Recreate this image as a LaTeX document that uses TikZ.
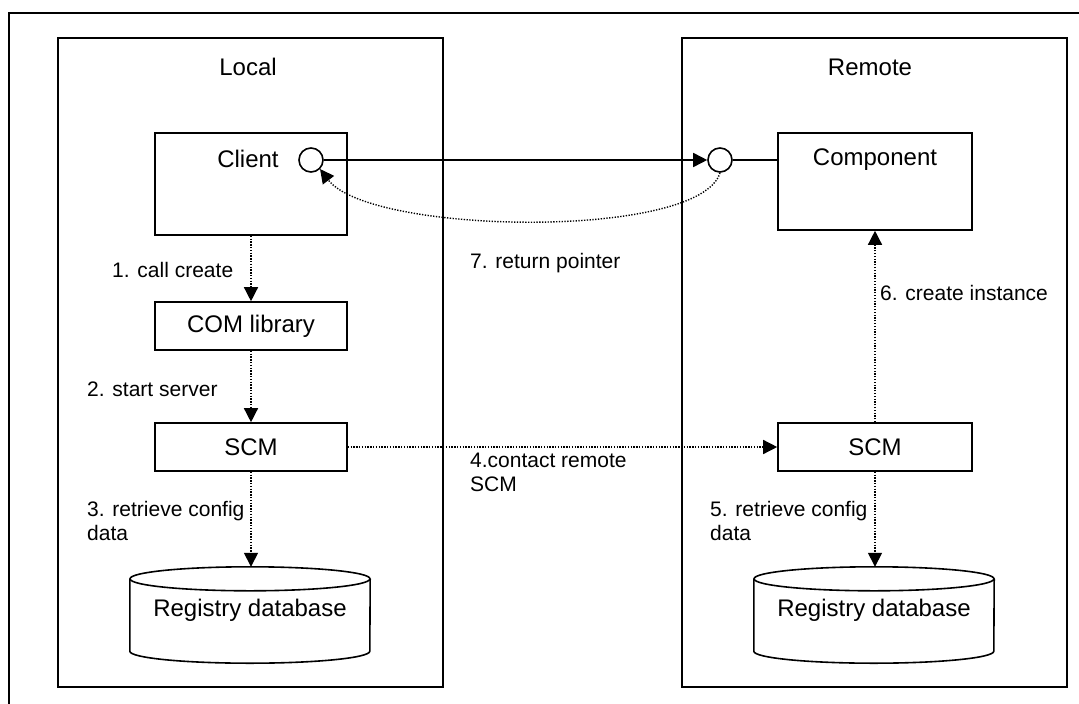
\documentclass[tikz,border=0pt]{standalone}
\usepackage{fontspec}
\setmainfont{Liberation Sans}
\usetikzlibrary{arrows.meta}
\begin{document}
\begin{tikzpicture}[x=1pt,y=-1pt,
  container/.style={draw, line width=1.6pt, inner sep=0pt, minimum width=385pt, minimum height=649pt},
  box/.style={draw, line width=1.6pt, fill=white, inner sep=0pt, font=\fontsize{24}{28}\selectfont},
  inlabel/.style={font=\fontsize{24}{28}\selectfont, inner sep=0pt, anchor=center},
  lbl/.style={font=\fontsize{21}{24}\selectfont, inner sep=0pt, align=left, anchor=west},
  ttl/.style={font=\fontsize{24}{28}\selectfont, inner sep=0pt},
  dotarrow/.style={line width=1.4pt, dash pattern=on 1.3pt off 1.5pt, -{Triangle[length=14pt,width=14pt]}},
  solidarrow/.style={line width=1.6pt, -{Triangle[length=14pt,width=14pt]}},
  port/.style={circle, draw, line width=1.6pt, fill=white, minimum size=24pt, inner sep=0pt},
  db/.style={inner sep=0pt, minimum width=240pt, minimum height=96pt, font=\fontsize{24}{28}\selectfont},
  dbline/.style={line width=1.6pt}
]
\clip (0,0) rectangle (1079,704);
\fill[white] (0,0) rectangle (1079,704);
% outer frame (extends beyond the picture)
\draw[line width=1.8pt] (9,13) rectangle (1120,740);

% containers
\node[container] (local) at (250.5,362.5) {};
\node[container] (remote) at (874.5,362.5) {};
\node[ttl] (tlocal) at (248,67) {Local};
\node[ttl] (tremote) at (870,67) {Remote};

% local side
\node[box, minimum width=192pt, minimum height=102pt,
      label={[inlabel, xshift=-3pt, yshift=-27pt]north:Client}] (client) at (251,184) {};
\node[port] (cL) at (311,160) {};
\node[box, minimum width=192pt, minimum height=48pt] (com) at (251,326) {COM library};
\node[box, minimum width=192pt, minimum height=48pt] (scmL) at (251,447) {SCM};
\node[db] (dbL) at (250,610) {Registry database};

% remote side
\node[box, minimum width=194pt, minimum height=97pt,
      label={[inlabel, yshift=-27pt]north:Component}] (comp) at (875,181.5) {};
\node[port] (cR) at (720,160) {};
\node[box, minimum width=194pt, minimum height=48pt] (scmR) at (875,447) {SCM};
\node[db] (dbR) at (874,610) {Registry database};

% cylinders
\foreach \n in {dbL,dbR} {
  \draw[dbline] ([yshift=-17pt]\n.north) ellipse [x radius=120pt, y radius=12pt];
  \draw[dbline] ([yshift=-17pt]\n.north west) -- ([yshift=7pt]\n.south west)
     arc [start angle=180, end angle=360, x radius=120pt, y radius=12pt]
     -- ([yshift=-17pt]\n.north east);
}
\coordinate (dbLtop) at ([yshift=-5pt]dbL.north);
\coordinate (dbRtop) at ([yshift=-5pt]dbR.north);

% connectors
\draw[solidarrow] (cL.east) -- (cR.west);
\draw[line width=1.6pt] (cR.east) -- (cR.east -| comp.west);
\draw[dotarrow] (cR.south) .. controls (700,240) and (370,235) .. (cL.south east);
\draw[dotarrow] (client.south) -- (com.north);
\draw[dotarrow] (com.south) -- (scmL.north);
\draw[dotarrow] (scmL.south) -- (scmL.south |- dbLtop);
\draw[dotarrow] (scmL.east) -- (scmR.west);
\draw[dotarrow] (scmR.south) -- (scmR.south |- dbRtop);
\draw[dotarrow] (scmR.north) -- (comp.south);

% labels
\node[lbl] (l1) at (112,270) {1. call create};
\node[lbl] (l2) at (87,389) {2. start server};
\node[lbl, anchor=north west] (l3) at (87,501) {3. retrieve config\\data};
\node[lbl, anchor=north west] (l4) at (470,453) {4.contact remote\\SCM};
\node[lbl, anchor=north west] (l5) at (710,501) {5. retrieve config\\data};
\node[lbl] (l6) at (880,293) {6. create instance};
\node[lbl] (l7) at (470,263) {7. return pointer};
\end{tikzpicture}
\end{document}
